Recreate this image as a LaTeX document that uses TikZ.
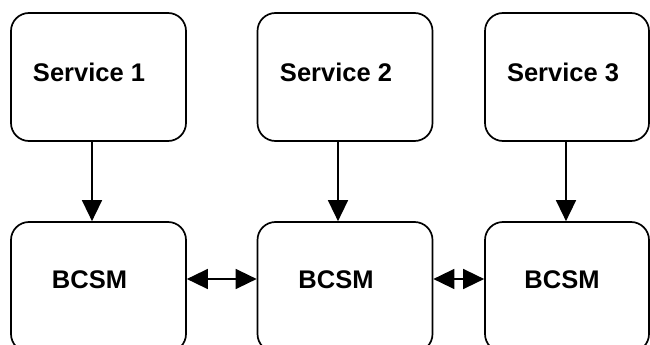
\documentclass[tikz,border=0pt]{standalone}
\usepackage{fontspec}
\setmainfont{Liberation Sans}
\usepackage{tikz}
\usetikzlibrary{positioning}
\usetikzlibrary{arrows.meta}

\begin{document}
\begin{tikzpicture}[x=1pt, y=-1pt,
        box/.style={rectangle, draw=black, line width=1.7pt, rounded corners=18pt, minimum width=175pt, minimum height=128pt},
        bcsm/.style={box, minimum height=130pt},
        lbl/.style={font=\bfseries\fontsize{25.5}{30}\selectfont, inner sep=0pt},
        link/.style={line width=1.5pt, -{Triangle[length=21pt, width=20pt]}},
        twoway/.style={line width=1.5pt, {Triangle[length=21pt, width=20pt]}-{Triangle[length=21pt, width=20pt]}}
      ]
        \clip (0,0) rectangle (650,345);

        \node[box]   (s1)     at (98.5,77)                       {};
        \node[box]   (s2)     [right of=s1, node distance=246.5pt] {};
        \node[box, minimum width=164pt]  (s3)  [right of=s2, node distance=222pt] {};

        \node[bcsm]  (b1)     [below of=s1, node distance=210pt] {};
        \node[bcsm]  (b2)     [below of=s2, node distance=210pt] {};
        \node[bcsm, minimum width=164pt] (b3) [below of=s3, node distance=210pt] {};

        \node[lbl]   (t1)     at ([xshift=-9.5pt, yshift=5pt]s1)  {Service 1};
        \node[lbl]   (t2)     at ([xshift=-9pt, yshift=5pt]s2)    {Service 2};
        \node[lbl]   (t3)     at ([xshift=-4pt, yshift=5pt]s3)    {Service 3};

        \node[lbl]   (u1)     at ([xshift=-9pt, yshift=7pt]b1)    {BCSM};
        \node[lbl]   (u2)     at ([xshift=-9pt, yshift=7pt]b2)    {BCSM};
        \node[lbl]   (u3)     at ([xshift=-5pt, yshift=7pt]b3)    {BCSM};

        \draw[link]    ([xshift=-6.5pt]s1.south) -- ([xshift=-6.5pt]b1.north);
        \draw[link]    ([xshift=-7pt]s2.south) -- ([xshift=-7pt]b2.north);
        \draw[link]    ([xshift=-1pt]s3.south) -- ([xshift=-1pt]b3.north);

        \draw[twoway]  ([yshift=8pt]b1.east) -- ([yshift=8pt]b2.west);
        \draw[twoway]  ([yshift=8pt]b2.east) -- ([yshift=8pt]b3.west);
      \end{tikzpicture}
\end{document}
